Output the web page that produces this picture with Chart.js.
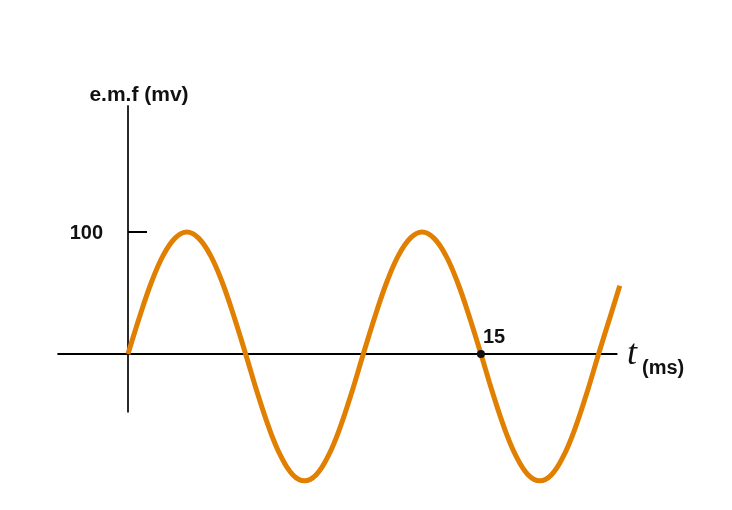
<!DOCTYPE html>
<html>
<head>
<meta charset="utf-8">
<script src="https://cdn.jsdelivr.net/npm/chart.js@4/dist/chart.umd.min.js"></script>
<style>
  html, body { margin: 0; padding: 0; background: #fff; }
  #wrap { width: 732px; height: 510px; position: relative; }
</style>
</head>
<body>
<div id="wrap"><canvas id="emf-chart" width="732" height="510"></canvas></div>
<script>
// time in ms
const times = [0, 0.5, 1, 1.5, 2, 2.5, 3, 3.5, 4, 4.5,
               5, 5.5, 6, 6.5, 7, 7.5, 8, 8.5, 9, 9.5,
               10, 10.5, 11, 11.5, 12, 12.5, 13, 13.5, 14, 14.5,
               15, 15.5, 16, 16.5, 17, 17.5, 18, 18.5, 19, 19.5,
               20, 20.5, 20.9];
// e.m.f in mV
const emf = [0, 31, 59, 81, 95, 100, 95, 81, 59, 31,
             0, -32, -61, -84, -99, -104, -99, -84, -61, -32,
             0, 31, 59, 81, 95, 100, 95, 81, 59, 31,
             0, -32, -61, -84, -99, -104, -99, -84, -61, -32,
             0, 31, 56];
const yTicks = [100];
const markedTimes = [15];

const axisX = [-3, 20.8];   // extent of the time axis line
const axisY = [-48, 204];   // extent of the emf axis line

const points = times.map((t, i) => ({ x: t, y: emf[i] }));

// draws axes, tick, labels
const axesPlugin = {
    id: "axesPlugin",
    beforeDatasetsDraw(chart) {
        const c = chart.ctx;
        const xs = chart.scales.x, ys = chart.scales.y;
        const x0 = xs.getPixelForValue(0), y0 = ys.getPixelForValue(0);
        c.save();
        // vertical axis
        c.strokeStyle = "#2a2a2a";
        c.lineWidth = 2;
        c.beginPath();
        c.moveTo(x0, ys.getPixelForValue(axisY[1]));
        c.lineTo(x0, ys.getPixelForValue(axisY[0]));
        c.stroke();
        // horizontal axis
        c.strokeStyle = "#000";
        c.beginPath();
        c.moveTo(xs.getPixelForValue(axisX[0]), y0);
        c.lineTo(xs.getPixelForValue(axisX[1]), y0);
        c.stroke();
        // y ticks
        c.font = "bold 20px 'Liberation Sans', Arial, sans-serif";
        c.fillStyle = "#111";
        c.textBaseline = "middle";
        yTicks.forEach(v => {
            const py = ys.getPixelForValue(v);
            c.beginPath();
            c.moveTo(x0, py);
            c.lineTo(x0 + 19, py);
            c.stroke();
            c.textAlign = "right";
            c.fillText(String(v), x0 - 25, py + 1);
        });
        // axis title
        c.textAlign = "center";
        c.font = "bold 21px 'Liberation Sans', Arial, sans-serif";
        c.fillText("e.m.f (mv)", x0 + 11, 95);
        c.restore();
    },
    afterDatasetsDraw(chart) {
        const c = chart.ctx;
        const xs = chart.scales.x, ys = chart.scales.y;
        const y0 = ys.getPixelForValue(0);
        c.save();
        c.fillStyle = "#111";
        c.font = "bold 20px 'Liberation Sans', Arial, sans-serif";
        markedTimes.forEach(t => {
            const px = xs.getPixelForValue(t);
            c.beginPath();
            c.arc(px, y0, 4, 0, Math.PI * 2);
            c.fill();
            c.textAlign = "left";
            c.textBaseline = "alphabetic";
            c.fillText(String(t), px + 2, y0 - 11);
        });
        // t (ms)
        c.font = "italic 36px 'Liberation Serif', 'Times New Roman', serif";
        c.textAlign = "left";
        c.textBaseline = "alphabetic";
        c.fillText("t", 627, 364);
        c.font = "bold 20px 'Liberation Sans', Arial, sans-serif";
        c.fillText("(ms)", 642, 374);
        c.restore();
    }
};

new Chart(document.getElementById("emf-chart").getContext("2d"), {
    type: "line",
    data: {
        datasets: [{
            data: points,
            borderColor: "#e07f00",
            borderWidth: 5,
            pointRadius: 0,
            tension: 0.4,
            fill: false,
            clip: false
        }]
    },
    options: {
        responsive: false,
        animation: false,
        layout: { padding: 0 },
        plugins: { legend: { display: false }, tooltip: { enabled: false } },
        scales: {
            x: { type: "linear", display: false, min: -5.44, max: 25.67 },
            y: { type: "linear", display: false, min: -127.9, max: 290.2 }
        }
    },
    plugins: [axesPlugin]
});
</script>
</body>
</html>
